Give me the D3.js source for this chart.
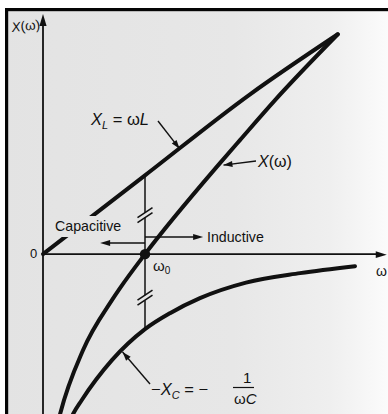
<!DOCTYPE html>
<html>
<head>
<meta charset="utf-8">
<script src="https://cdn.jsdelivr.net/npm/d3@7"></script>
<style>
  html, body { margin: 0; padding: 0; background: #ffffff; }
  svg { display: block; }
  text { font-family: "Liberation Sans", Arial, Helvetica, sans-serif; fill: #111; }
</style>
</head>
<body>
<div id="chart"></div>
<script>
// Reactance of a series RLC circuit versus angular frequency (ω in units of ω0)

// Inductive reactance X_L = ωL
const xlOmega = [0, 1.0, 2.03, 2.89];
const xlValue = [0, 1.05, 2.13, 2.93];

// Capacitive term −X_C = −1/(ωC)
const xcOmega = [0.225, 0.294, 0.379, 0.676, 1.0, 1.245, 1.539, 1.99, 2.52, 3.059];
const xcValue = [-2.347, -2.133, -1.947, -1.413, -1.0, -0.787, -0.587, -0.38, -0.253, -0.16];

// Net reactance X(ω) = X_L − X_C
const xwOmega = [0.12, 0.167, 0.392, 0.676, 0.755, 1.0, 1.735, 1.931, 2.275, 2.89];
const xwValue = [-2.4, -2.133, -1.28, -0.613, -0.453, 0, 1.213, 1.52, 2.053, 2.93];

// Resonance and region arrows
const omega0 = 1.0;
const breakValues = [0.52, -0.58];
const capacitiveArrow = { y: 0.147, to: 0.56 };
const inductiveArrow = { y: 0.227, to: 1.57 };

const W = 388, H = 414;

const svg = d3.select("#chart").append("svg")
  .attr("width", W).attr("height", H);

const x = d3.scaleLinear().domain([0, 3.35]).range([43, 384.7]);
const y = d3.scaleLinear().domain([-2.13, 3.2]).range([414, 14]);

const defs = svg.append("defs");
const grad = defs.append("linearGradient")
  .attr("id", "paper")
  .attr("gradientUnits", "userSpaceOnUse")
  .attr("x1", 0).attr("y1", 0).attr("x2", W).attr("y2", 0);
grad.append("stop").attr("offset", "0").attr("stop-color", "#e3e3e3");
grad.append("stop").attr("offset", "0.6").attr("stop-color", "#e7e7e7");
grad.append("stop").attr("offset", "0.85").attr("stop-color", "#efefef");
grad.append("stop").attr("offset", "1").attr("stop-color", "#fbfbfb");

// paper background inside the frame
svg.append("rect")
  .attr("x", 5).attr("y", 8).attr("width", W - 5).attr("height", H - 8)
  .attr("fill", "url(#paper)");

// frame (top and left edges)
svg.append("rect").attr("x", 5).attr("y", 8).attr("width", W - 5).attr("height", 3.2).attr("fill", "#050505");
svg.append("rect").attr("x", 5).attr("y", 8).attr("width", 3.2).attr("height", H - 8).attr("fill", "#050505");

const ink = "#111";

function arrowHead(g, tipX, tipY, angle, len, half) {
  const a = angle;
  const bx = tipX - len * Math.cos(a), by = tipY - len * Math.sin(a);
  const px = -Math.sin(a) * half, py = Math.cos(a) * half;
  g.append("path")
    .attr("d", `M${tipX},${tipY}L${bx + px},${by + py}L${bx - px},${by - py}Z`)
    .attr("fill", ink);
}

// axes
const axes = svg.append("g");
axes.append("line")
  .attr("x1", x(0)).attr("y1", y(-2.2)).attr("x2", x(0)).attr("y2", y(3.1))
  .attr("stroke", ink).attr("stroke-width", 1.8);
arrowHead(axes, x(0), y(3.2), -Math.PI / 2, 12, 3.6);
axes.append("line")
  .attr("x1", x(0)).attr("y1", y(0)).attr("x2", x(3.3)).attr("y2", y(0))
  .attr("stroke", ink).attr("stroke-width", 1.8);
arrowHead(axes, x(3.37), y(0) + 0.5, 0, 11, 3.4);

const line = d3.line().x(d => x(d[0])).y(d => y(d[1])).curve(d3.curveMonotoneX);
const zip = (a, b) => a.map((v, i) => [v, b[i]]);

const curves = svg.append("g").attr("fill", "none").attr("stroke", ink)
  .attr("stroke-width", 4).attr("stroke-linecap", "round").attr("stroke-linejoin", "round");

curves.append("path").attr("d", line(zip(xlOmega, xlValue)));
curves.append("path").attr("d", line(zip(xcOmega, xcValue)));
curves.append("path").attr("d", line(zip(xwOmega, xwValue)));

// vertical marker at ω0 between X_L and −X_C, with break marks
const xlAt0 = d3.scaleLinear().domain(xlOmega).range(xlValue)(omega0);
const xcAt0 = -1.0;
const vx = x(omega0);
const marker = svg.append("g").attr("stroke", ink).attr("stroke-width", 1.5).attr("fill", "none");
const gapPx = 5;
const segs = [];
let segTop = y(xlAt0);
breakValues.forEach(b => {
  segs.push([segTop, y(b) - gapPx / 2]);
  segTop = y(b) + gapPx / 2;
});
segs.push([segTop, y(xcAt0)]);
segs.forEach(s => marker.append("line").attr("x1", vx).attr("x2", vx).attr("y1", s[0]).attr("y2", s[1]));
breakValues.forEach(b => {
  [-gapPx / 2, gapPx / 2].forEach(off => {
    marker.append("line")
      .attr("x1", vx - 7.5).attr("y1", y(b) + off + 5)
      .attr("x2", vx + 7.5).attr("y2", y(b) + off - 5)
      .attr("stroke-width", 1.6);
  });
});

// Capacitive / Inductive arrows
const arr = svg.append("g").attr("stroke", ink).attr("stroke-width", 1.5);
arr.append("line").attr("x1", vx).attr("y1", y(capacitiveArrow.y))
  .attr("x2", x(capacitiveArrow.to) + 8).attr("y2", y(capacitiveArrow.y));
arrowHead(svg, x(capacitiveArrow.to), y(capacitiveArrow.y), Math.PI, 10, 3);
arr.append("line").attr("x1", vx).attr("y1", y(inductiveArrow.y))
  .attr("x2", x(inductiveArrow.to) - 8).attr("y2", y(inductiveArrow.y));
arrowHead(svg, x(inductiveArrow.to), y(inductiveArrow.y), 0, 10, 3);

// resonance point
svg.append("circle").attr("cx", vx).attr("cy", y(0)).attr("r", 5.2).attr("fill", ink);

// labels
const lab = svg.append("g");

// clear the X_L line behind "Capacitive"
lab.append("rect").attr("x", 53).attr("y", 216).attr("width", 73).attr("height", 21)
  .attr("fill", "url(#paper)");
lab.append("text").attr("x", 55).attr("y", 231).attr("font-size", 14.2).text("Capacitive");
lab.append("text").attr("x", 207).attr("y", 242).attr("font-size", 14.2).text("Inductive");

lab.append("text").attr("x", 30).attr("y", 258).attr("font-size", 13).text("0");

const w0 = lab.append("text").attr("x", 153).attr("y", 271).attr("font-size", 15);
w0.append("tspan").text("ω");
w0.append("tspan").attr("font-size", 10).attr("dy", 3).text("0");

lab.append("text").attr("x", 376).attr("y", 276).attr("font-size", 14).text("ω");

// y-axis title
const yt = lab.append("text").attr("transform", "translate(12,32) rotate(-6)").attr("font-size", 13.5);
yt.append("tspan").attr("font-style", "italic").text("X");
yt.append("tspan").text("(ω)");

// X_L = ωL with pointer
const xlLab = lab.append("text").attr("x", 91).attr("y", 125).attr("font-size", 16.5);
xlLab.append("tspan").attr("font-style", "italic").text("X");
xlLab.append("tspan").attr("font-size", 11).attr("font-style", "italic").attr("dy", 4).text("L");
xlLab.append("tspan").attr("dy", -4).text(" = ω");
xlLab.append("tspan").attr("font-style", "italic").text("L");

function pointer(x1, y1, x2, y2) {
  svg.append("line").attr("x1", x1).attr("y1", y1).attr("x2", x2).attr("y2", y2)
    .attr("stroke", ink).attr("stroke-width", 1.4);
  arrowHead(svg, x2, y2, Math.atan2(y2 - y1, x2 - x1), 9, 3);
}
pointer(158, 121, x(1.34), y(1.43) + 2);

// X(ω) label with pointer
const xwLab = lab.append("text").attr("x", 258).attr("y", 167).attr("font-size", 16);
xwLab.append("tspan").attr("font-style", "italic").text("X");
xwLab.append("tspan").text("(ω)");
pointer(256, 161, x(1.74) + 3, y(1.2) + 1);

// −X_C = −1/(ωC) with pointer
const xcLab = lab.append("text").attr("x", 151).attr("y", 395).attr("font-size", 16.5);
xcLab.append("tspan").text("−");
xcLab.append("tspan").attr("font-style", "italic").text("X");
xcLab.append("tspan").attr("font-size", 11).attr("font-style", "italic").attr("dy", 4).text("C");
xcLab.append("tspan").attr("dy", -4).text(" = − ");
lab.append("text").attr("x", 243).attr("y", 383).attr("font-size", 15).text("1");
lab.append("line").attr("x1", 233).attr("x2", 254).attr("y1", 387.5).attr("y2", 387.5)
  .attr("stroke", ink).attr("stroke-width", 1.2);
const wc = lab.append("text").attr("x", 234).attr("y", 404).attr("font-size", 15);
wc.append("tspan").text("ω");
wc.append("tspan").attr("font-style", "italic").text("C");
pointer(150, 384, x(0.77) + 1, y(-1.29) + 1);
</script>
</body>
</html>
